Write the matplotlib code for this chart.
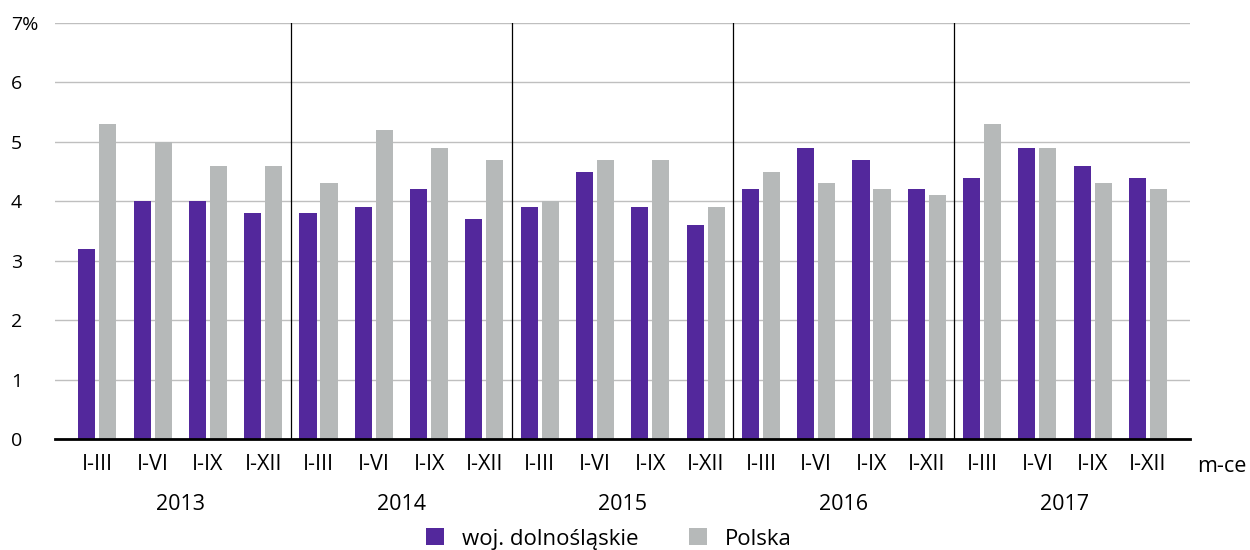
import matplotlib
matplotlib.use("Agg")
import matplotlib.pyplot as plt
from matplotlib.patches import Patch
import numpy as np

plt.rcParams['font.family'] = ['Open Sans', 'DejaVu Sans']

years = ["2013", "2014", "2015", "2016", "2017"]
periods = ["I-III", "I-VI", "I-IX", "I-XII"]
dolnoslaskie = [3.2, 4.0, 4.0, 3.8,
                3.8, 3.9, 4.2, 3.7,
                3.9, 4.5, 3.9, 3.6,
                4.2, 4.9, 4.7, 4.2,
                4.4, 4.9, 4.6, 4.4]
polska = [5.3, 5.0, 4.6, 4.6,
          4.3, 5.2, 4.9, 4.7,
          4.0, 4.7, 4.7, 3.9,
          4.5, 4.3, 4.2, 4.1,
          5.3, 4.9, 4.3, 4.2]
series_names = ["woj. dolnośląskie", "Polska"]
yticks = [0, 1, 2, 3, 4, 5, 6, 7]
ytick_labels = ["0", "1", "2", "3", "4", "5", "6", "7%"]
unit_label = "m-ce"

c_purple = "#53289C"
c_gray = "#B6B9B9"
FSY = 14
FSX = 15.5
FSL = 16

fig = plt.figure(figsize=(12.5, 5.5), dpi=100)
ax = fig.add_axes([55/1250, 1-439/550, (1190-55)/1250, (439-23)/550])

n = len(dolnoslaskie)
x = np.arange(n)
w = 0.31
off = 0.19
ax.bar(x - off, dolnoslaskie, width=w, color=c_purple, zorder=3)
ax.bar(x + off, polska, width=w, color=c_gray, zorder=3)

ax.set_xlim(-0.765, 19.76)
ax.set_ylim(0, 7)
ax.set_yticks(yticks)
ax.set_yticklabels(ytick_labels, fontsize=FSY, ha='left')
ax.tick_params(axis='y', length=0, pad=44*0.72)
ax.grid(axis='y', color='#BFBFBF', lw=1, zorder=0)
ax.set_axisbelow(True)
for s in ['top', 'right', 'left', 'bottom']:
    ax.spines[s].set_visible(False)
ax.axhline(0, color='black', lw=2, zorder=4, clip_on=False)

# year separators
for k in range(1, len(years)):
    ax.axvline(k*len(periods) - 0.5, ymin=0, ymax=1, color='black', lw=0.9, zorder=4)

ax.set_xticks(x)
ax.set_xticklabels(periods * len(years), fontsize=FSX)
ax.tick_params(axis='x', length=0, pad=11)

trans = matplotlib.transforms.blended_transform_factory(ax.transData, fig.transFigure)
for i, y in enumerate(years):
    cx = i*len(periods) + (len(periods)-1)/2
    ax.text(cx, 1-504/550, y, transform=trans, ha='center', va='center', fontsize=FSX)

fig.text(1222/1250, 1-467/550, unit_label, ha='center', va='center', fontsize=FSX)

handles = [Patch(facecolor=c_purple), Patch(facecolor=c_gray)]
fig.legend(handles, series_names, loc='center', bbox_to_anchor=(0.487, 1-539/550),
           ncol=2, frameon=False, fontsize=FSL, handlelength=0.8, handleheight=0.8,
           handletextpad=0.8, columnspacing=2.3, borderaxespad=0, borderpad=0)

fig.savefig("out.png", dpi=100)
